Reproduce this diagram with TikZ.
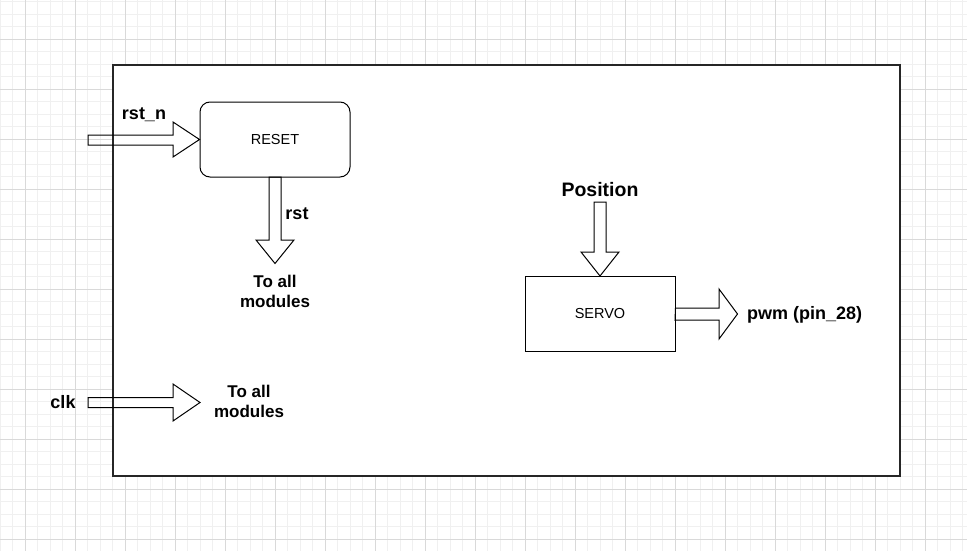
\documentclass[tikz,border=0pt]{standalone}
\usepackage{fontspec}
\setmainfont{Liberation Sans}
\begin{document}
\begin{tikzpicture}[x=1pt,y=-1pt,
  gminor/.style={draw=black!6, line width=0.8pt},
  gmajor/.style={draw=black!15, line width=0.8pt},
  lbl/.style={font=\bfseries\fontsize{18}{20}\selectfont, align=center, inner sep=0pt},
  boxtxt/.style={font=\fontsize{14.5}{16}\selectfont},
  blockarrow/.style={draw=black, line width=1pt, line join=miter},
  module/.style={draw=black, line width=1pt, minimum width=150pt, minimum height=75pt, boxtxt}]
\useasboundingbox (0,0) rectangle (967,551);
\clip (0,0) rectangle (967,551);
% grid
\foreach \k in {0,...,77} \draw[gminor] (12.5*\k,0) -- (12.5*\k,551);
\foreach \k in {0,...,44} \draw[gminor] (0,1.8+12.5*\k) -- (967,1.8+12.5*\k);
\foreach \k in {0,...,18} \draw[gmajor] (25+50*\k,0) -- (25+50*\k,551);
\foreach \k in {0,...,10} \draw[gmajor] (0,39.3+50*\k) -- (967,39.3+50*\k);
% outer box
\node[draw=black!85, fill=white, line width=1.3pt, minimum width=787pt, minimum height=411pt, inner sep=0pt] (outer) at (506.5,270.5) {};
% modules
\node[module, rounded corners=10pt] (reset) at (275,139.5) {RESET};
\node[module] (servo) at (600,314) {SERVO};
% rst_n arrow
\draw[blockarrow] (88,135) -- (173,135) -- (173,122) -- (reset.west) -- (173,157) -- (173,145) -- (88,145) -- cycle;
\node[lbl] (rstn) at (144,115) {rst\_n};
% rst arrow
\draw[blockarrow] (269,177) -- (269,240) -- (256,240) -- (275,263.5) -- (294,240) -- (281,240) -- (281,177) -- cycle;
\node[lbl] (rst) at (297,214) {rst};
\node[lbl, font=\bfseries\fontsize{17}{20}\selectfont] (toall1) at (275,291.7) {To all\\modules};
% position arrow
\draw[blockarrow] (594,202) -- (606,202) -- (606,252) -- (619,252) -- (servo.north) -- (581,252) -- (594,252) -- cycle;
\node[lbl, font=\bfseries\fontsize{19.5}{22}\selectfont] (pos) at (600,190) {Position};
% pwm arrow
\draw[blockarrow] (servo.east) ++(0,-6) -- (719,308) -- (719,289) -- (737.5,314) -- (719,339) -- (719,320) -- (675,320) -- cycle;
\node[lbl, anchor=west] (pwm) at (747,315) {pwm (pin\_28)};
% clk arrow
\draw[blockarrow] (88,397.5) -- (173,397.5) -- (173,384) -- (200,402.5) -- (173,421) -- (173,407.5) -- (88,407.5) -- cycle;
\node[lbl] (clk) at (63,402) {clk};
\node[lbl, font=\bfseries\fontsize{17}{20}\selectfont] (toall2) at (249,401.7) {To all\\modules};
\end{tikzpicture}
\end{document}
